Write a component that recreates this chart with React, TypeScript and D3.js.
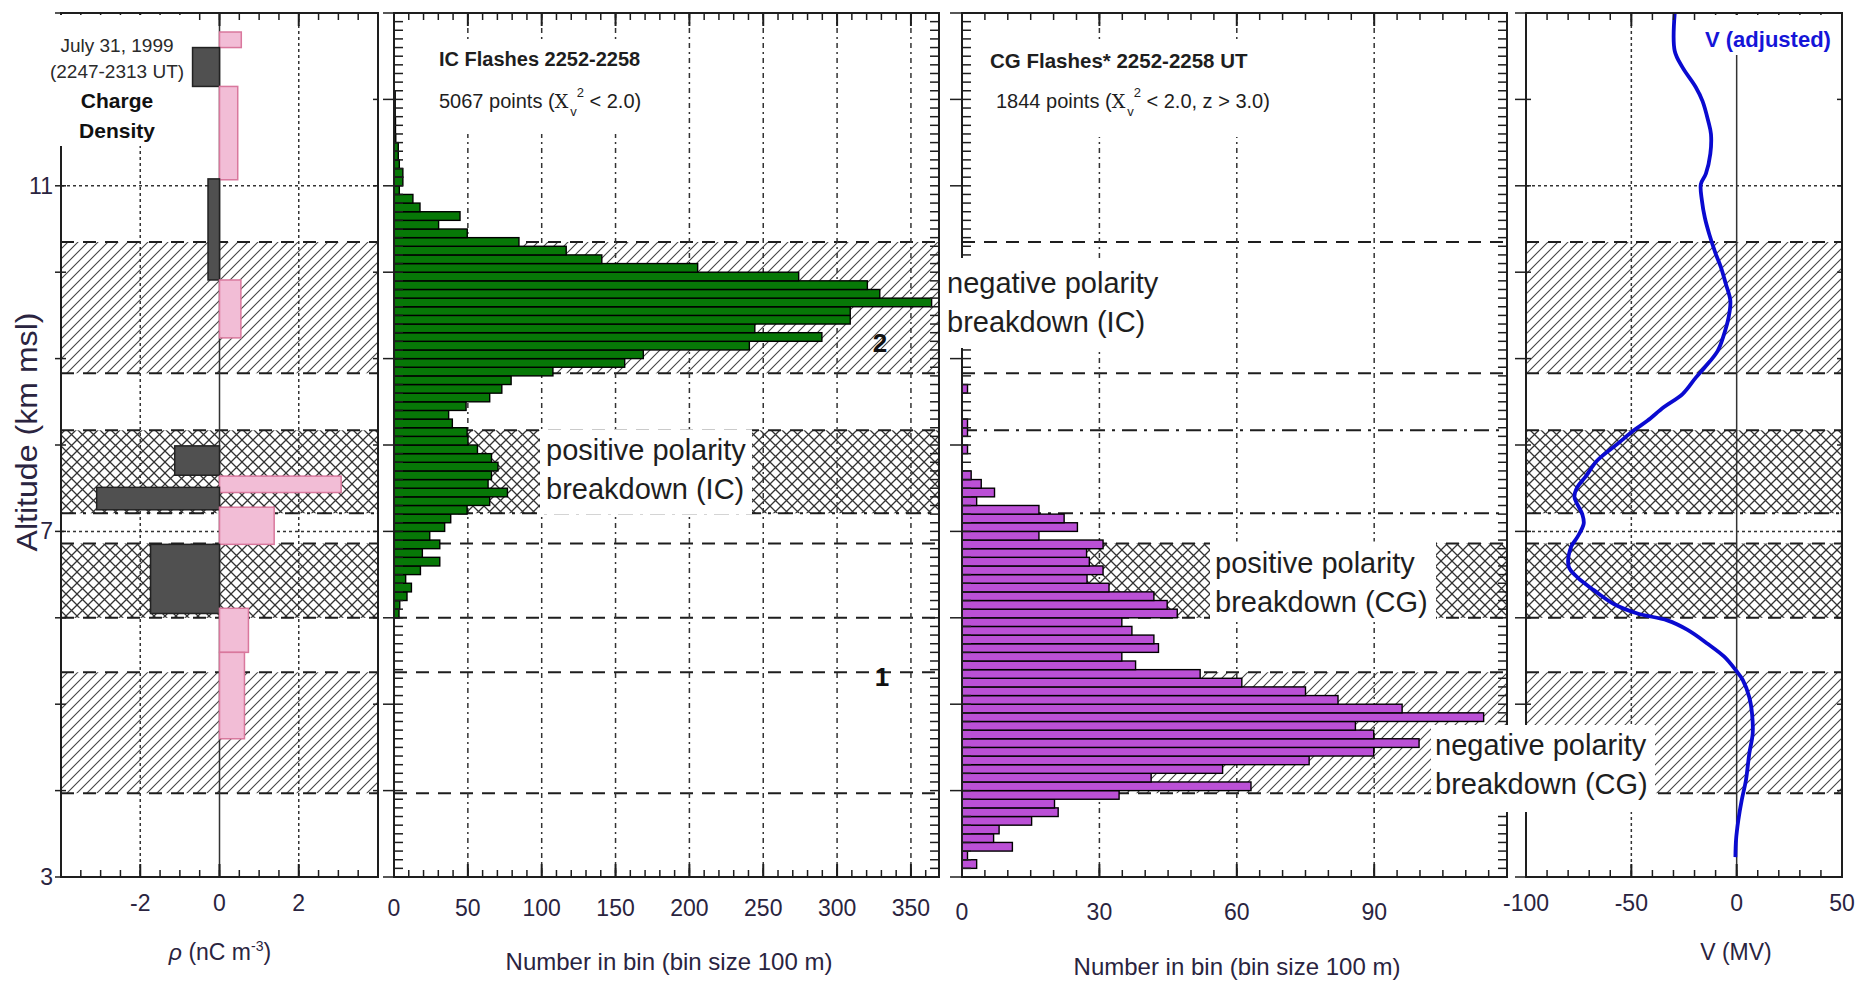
import * as d3 from 'd3';

// charge density layers: bottom / top altitude (km msl) and rho (nC m^-3)
const chargeBottom = [12.6, 12.15, 11.07, 9.91, 9.24, 7.65, 7.45, 7.25, 6.85, 6.05, 5.6, 4.6];
const chargeTop = [12.78, 12.6, 12.15, 11.08, 9.91, 7.99, 7.64, 7.51, 7.28, 6.85, 6.11, 5.6];
const chargeRho = [0.55, -0.68, 0.46, -0.29, 0.54, -1.13, 3.07, -3.1, 1.38, -1.74, 0.73, 0.63];

// IC flash sources, 100 m bins starting at 6.0 km
const icStartKm = 6.0;
const icCounts = [
  3.4, 3.9, 8.8, 11.8, 7.9, 17.9, 31, 19.2, 31, 24.2,
  34.3, 38.4, 49.5, 64.8, 76.8, 63.7, 66, 70.4, 66, 56.5,
  50.1, 49.5, 39.5, 37, 48.8, 64.8, 73, 79.3, 107.6, 156.2,
  168.8, 240.6, 289.7, 244.3, 308.9, 308.9, 364, 328.9, 320.5, 274,
  205.6, 140.7, 116.6, 84.6, 49.6, 30.2, 44.7, 17.6, 12.8, 3.6,
  6, 6, 3.6, 2.9, 2.9, 1.2, 1, 1, 0.8, 0.8, 0.8,
];

// CG flash sources, 100 m bins starting at 3.1 km
const cgStartKm = 3.1;
const cgCounts = [
  3.2, 1.2, 11, 6.9, 8.1, 15.2, 21, 20.2, 34.3, 63.1,
  41.3, 56.9, 75.8, 89.9, 99.8, 89.9, 85.9, 113.9, 96.1, 82.1,
  75, 61.1, 52, 37.9, 34.9, 42.9, 41.9, 37.1, 34.9, 47,
  44.8, 41.9, 32.1, 27.3, 30.8, 27.8, 27.2, 30.8, 16.8, 25.2,
  22.3, 16.8, 3.2, 7.1, 4.2, 2, 0, 0, 1.2, 0,
  1.2, 1.2, 0, 0, 0, 1.2,
];

// adjusted potential profile
const vAltitude = [
  13.0, 12.56, 12.37, 12.14, 11.98, 11.75, 11.6, 11.37, 11.14, 11.02,
  10.83, 10.63, 10.44, 10.21, 10.06, 9.86, 9.67, 9.48, 9.29, 9.09,
  8.9, 8.78, 8.59, 8.44, 8.28, 8.17, 8.01, 7.82, 7.63, 7.51,
  7.4, 7.2, 7.09, 6.93, 6.82, 6.59, 6.47, 6.32, 6.16, 6.05,
  5.97, 5.86, 5.7, 5.55, 5.39, 5.28, 5.08, 4.89, 4.66, 4.43,
  4.12, 3.89, 3.66, 3.43, 3.23,
];
const vPotential = [
  -29.4, -29.4, -25.7, -19.4, -16.2, -13.5, -12.2, -12.5, -14.6, -17,
  -16.5, -15.1, -13, -9.9, -7.5, -5.1, -3, -3.8, -5.9, -9,
  -15.1, -19.4, -25.7, -34.5, -42.4, -48.8, -56.7, -66.2, -71.8, -75.7,
  -77, -73.3, -72.6, -75.7, -78.6, -79.7, -75.7, -67.8, -58.3, -47.1,
  -32.9, -23.3, -13.8, -5.9, -0.3, 2.9, 6, 7.3, 7.6, 6,
  4.4, 2.4, 0.8, -0.3, -0.6,
];

// breakdown layers (km)
const bandLow = [8.83, 7.21, 6.0, 3.97];
const bandHigh = [10.35, 8.17, 6.86, 5.37];
const bandFill = ['diag', 'cross', 'cross', 'diag'];

const altTicks = [3, 7, 11];
const rhoTicks = [-2, 0, 2];
const icTicks = [0, 50, 100, 150, 200, 250, 300, 350];
const cgTicks = [0, 30, 60, 90];
const vTicks = [-100, -50, 0, 50];

const FONT = '"Liberation Sans", Arial, Helvetica, sans-serif';
const INK = '#1e1e1e';
const GRID = '#333';

const y = d3.scaleLinear().domain([3, 13]).range([877, 13]);
const TOP = y(13);
const BOT = y(3);

type Scale = d3.ScaleLinear<number, number>;

function Frame({ sx, minorX, majorX, fine, outer }: { sx: Scale; minorX: number[]; majorX: number[]; fine: boolean; outer: number }) {
  const [l, r] = sx.range();
  const km = d3.range(3, 13.001, 1);
  const tenth = d3.range(3, 13.0001, 0.1);
  return (
    <g stroke={INK} fill="none">
      <rect x={l} y={TOP} width={r - l} height={BOT - TOP} strokeWidth={2} />
      {minorX.map((v) => (
        <g key={'mx' + v} strokeWidth={1.5}>
          <line x1={sx(v)} x2={sx(v)} y1={BOT} y2={BOT - 7} />
          <line x1={sx(v)} x2={sx(v)} y1={TOP} y2={TOP + 7} />
        </g>
      ))}
      {majorX.map((v) => (
        <g key={'Mx' + v} strokeWidth={2}>
          <line x1={sx(v)} x2={sx(v)} y1={BOT} y2={BOT - 13} />
          <line x1={sx(v)} x2={sx(v)} y1={TOP} y2={TOP + 13} />
        </g>
      ))}
      {fine &&
        tenth.map((a) => (
          <g key={'ty' + a.toFixed(1)} strokeWidth={1.5}>
            <line x1={l} x2={l + 9} y1={y(a)} y2={y(a)} />
            <line x1={r} x2={r - 9} y1={y(a)} y2={y(a)} />
          </g>
        ))}
      {!fine &&
        km.map((a) => (
          <g key={'ky' + a} strokeWidth={1.5}>
            <line x1={l} x2={l + 5} y1={y(a)} y2={y(a)} />
            <line x1={r} x2={r - 5} y1={y(a)} y2={y(a)} />
          </g>
        ))}
      {km.map((a) => (
        <line key={'oy' + a} x1={l - outer} x2={l} y1={y(a)} y2={y(a)} strokeWidth={1.5} />
      ))}
    </g>
  );
}

function Bands({ sx, hatch, dashDot }: { sx: Scale; hatch: number[]; dashDot: boolean }) {
  const [l, r] = sx.range();
  return (
    <g>
      {bandLow.map((lo, i) =>
        hatch.includes(i) ? (
          <rect key={'h' + i} x={l} y={y(bandHigh[i])} width={r - l} height={y(lo) - y(bandHigh[i])}
            fill={`url(#${bandFill[i]})`} />
        ) : null
      )}
      {bandLow.map((lo, i) => {
        const hi = bandHigh[i];
        const topDash = dashDot && i === 1 ? '15,7,3,7' : '13,9';
        const botDash = i === 1 ? '15,7,3,7' : '13,9';
        return (
          <g key={'l' + i} stroke={INK} strokeWidth={2}>
            <line x1={l} x2={r} y1={y(hi)} y2={y(hi)} strokeDasharray={topDash} />
            <line x1={l} x2={r} y1={y(lo)} y2={y(lo)} strokeDasharray={botDash} />
          </g>
        );
      })}
    </g>
  );
}

function Box({ x, y: yy, w, h }: { x: number; y: number; w: number; h: number }) {
  return <rect x={x} y={yy} width={w} height={h} fill="#fff" />;
}

function TwoLine({ x, y1, a, b }: { x: number; y1: number; a: string; b: string }) {
  return (
    <g fontFamily={FONT} fontSize={29} fill={INK}>
      <text x={x} y={y1}>{a}</text>
      <text x={x} y={y1 + 39}>{b}</text>
    </g>
  );
}

export default function App() {
  const xRho = d3.scaleLinear().domain([-4, 4]).range([61, 378]);
  const xIC = d3.scaleLinear().domain([0, 369]).range([394, 939]);
  const xCG = d3.scaleLinear().domain([0, 119]).range([962, 1507]);
  const xV = d3.scaleLinear().domain([-100, 50]).range([1526, 1842]);

  const binH = y(0) - y(0.1);
  const vLine = d3
    .line<number>()
    .x((d) => xV(d))
    .y((_, i) => y(vAltitude[i]))
    .curve(d3.curveCatmullRom);

  const hGrid = (sx: Scale, key: string) =>
    [7, 11].map((a) => (
      <line key={key + a} x1={sx.range()[0]} x2={sx.range()[1]} y1={y(a)} y2={y(a)}
        stroke={GRID} strokeWidth={1.5} strokeDasharray="3,3" />
    ));

  return (
    <div style={{ position: 'absolute', left: 0, top: 0 }}>
      <svg width={1870} height={989} viewBox="0 0 1870 989" style={{ display: 'block', background: '#fff' }}>
        <defs>
          <pattern id="diag" width={10} height={10} patternUnits="userSpaceOnUse">
            <path d="M-2,2 L2,-2 M0,10 L10,0 M8,12 L12,8" stroke="#444" strokeWidth={1.1} />
          </pattern>
          <pattern id="cross" width={11} height={11} patternUnits="userSpaceOnUse">
            <path d="M0,0 L11,11 M11,0 L0,11" stroke="#333" strokeWidth={1.3} />
          </pattern>
        </defs>
        <rect width={1870} height={989} fill="#fff" />

        {/* panel 1: charge density */}
        <Bands sx={xRho} hatch={[0, 1, 2, 3]} dashDot={false} />
        {hGrid(xRho, 'g1')}
        {rhoTicks.map((v) => (
          <line key={'v1' + v} x1={xRho(v)} x2={xRho(v)} y1={TOP} y2={BOT} stroke={GRID}
            strokeWidth={1.5} strokeDasharray={v === 0 ? undefined : '3,3'} />
        ))}
        {chargeRho.map((v, i) => (
          <rect key={'c' + i} x={Math.min(xRho(0), xRho(v))} y={y(chargeTop[i])}
            width={Math.abs(xRho(v) - xRho(0))} height={y(chargeBottom[i]) - y(chargeTop[i])}
            fill={v < 0 ? '#505050' : '#f2bdd6'} stroke={v < 0 ? '#222' : '#d9789d'} strokeWidth={1.5} />
        ))}
        <Frame sx={xRho} minorX={d3.range(-4, 4.01, 0.5)} majorX={rhoTicks} fine={false} outer={6} />

        {/* panel 2: IC flashes */}
        <Bands sx={xIC} hatch={[0, 1]} dashDot={false} />
        {icTicks.slice(1).map((v) => (
          <line key={'v2' + v} x1={xIC(v)} x2={xIC(v)} y1={TOP} y2={BOT} stroke={GRID}
            strokeWidth={1.5} strokeDasharray="5,4,2,4" />
        ))}
        {icCounts.map((v, i) => (
          <rect key={'ic' + i} x={xIC(0)} y={y(icStartKm + (i + 1) * 0.1)} width={xIC(v) - xIC(0)} height={binH}
            fill="#077807" stroke="#000" strokeWidth={1.4} />
        ))}
        <Frame sx={xIC} minorX={d3.range(0, 369, 10)} majorX={icTicks} fine={true} outer={11} />

        {/* panel 3: CG flashes */}
        <Bands sx={xCG} hatch={[2, 3]} dashDot={true} />
        {cgTicks.slice(1).map((v) => (
          <line key={'v3' + v} x1={xCG(v)} x2={xCG(v)} y1={TOP} y2={BOT} stroke={GRID}
            strokeWidth={1.5} strokeDasharray="5,4,2,4" />
        ))}
        {cgCounts.map((v, i) =>
          v > 0 ? (
            <rect key={'cg' + i} x={xCG(0)} y={y(cgStartKm + (i + 1) * 0.1)} width={xCG(v) - xCG(0)} height={binH}
              fill="#bb50d6" stroke="#000" strokeWidth={1.4} />
          ) : null
        )}
        <Frame sx={xCG} minorX={d3.range(0, 119, 5)} majorX={cgTicks} fine={true} outer={12} />

        {/* panel 4: potential */}
        <Bands sx={xV} hatch={[0, 1, 2, 3]} dashDot={false} />
        {hGrid(xV, 'g4')}
        {[-50, 0].map((v) => (
          <line key={'v4' + v} x1={xV(v)} x2={xV(v)} y1={TOP} y2={BOT} stroke={GRID}
            strokeWidth={1.5} strokeDasharray={v === 0 ? undefined : '3,3'} />
        ))}
        <path d={vLine(vPotential) ?? ''} fill="none" stroke="#0a0ad0" strokeWidth={3.8} strokeLinejoin="round" />
        <Frame sx={xV} minorX={d3.range(-100, 50, 10)} majorX={vTicks} fine={false} outer={11} />

        {/* annotation boxes and text */}
        <Box x={42} y={15} w={148} h={131} />
        <g fontFamily={FONT} fill="#2a2a2a" textAnchor="middle">
          <text x={117} y={52} fontSize={19}>July 31, 1999</text>
          <text x={117} y={78} fontSize={19}>(2247-2313 UT)</text>
          <text x={117} y={108} fontSize={21} fontWeight="bold" fill="#111">Charge</text>
          <text x={117} y={138} fontSize={21} fontWeight="bold" fill="#111">Density</text>
        </g>

        <Box x={433} y={42} w={229} h={92} />
        <g fontFamily={FONT} fill={INK} style={{ whiteSpace: 'pre' }}>
          <text x={439} y={66} fontSize={20} fontWeight="bold">IC Flashes 2252-2258</text>
          <text x={439} y={108} fontSize={20}>
            {'5067 points  ('}
            <tspan fontFamily='"DejaVu Serif", serif' fontSize={19}>X</tspan>
            <tspan fontSize={13} dy={8} dx={2}>v</tspan>
            <tspan fontSize={13} dy={-19} dx={0}>2</tspan>
            <tspan dy={11}>{' < 2.0)'}</tspan>
          </text>
        </g>

        <Box x={985} y={42} w={305} h={95} />
        <g fontFamily={FONT} fill={INK} style={{ whiteSpace: 'pre' }}>
          <text x={990} y={68} fontSize={20.5} fontWeight="bold">CG Flashes* 2252-2258 UT</text>
          <text x={996} y={108} fontSize={20}>
            {'1844 points ('}
            <tspan fontFamily='"DejaVu Serif", serif' fontSize={19}>X</tspan>
            <tspan fontSize={13} dy={8} dx={2}>v</tspan>
            <tspan fontSize={13} dy={-19} dx={0}>2</tspan>
            <tspan dy={11}>{' < 2.0, z > 3.0)'}</tspan>
          </text>
        </g>

        <Box x={1700} y={15} w={139} h={40} />
        <text x={1705} y={47} fontFamily={FONT} fontSize={22} fontWeight="bold" fill="#1515d8">V (adjusted)</text>

        <Box x={540} y={y(bandHigh[1]) - 1} w={212} h={y(bandLow[1]) - y(bandHigh[1]) + 2} />
        <TwoLine x={546} y1={460} a="positive polarity" b="breakdown (IC)" />

        <Box x={943} y={258} w={219} h={90} />
        <TwoLine x={947} y1={293} a="negative polarity" b="breakdown (IC)" />

        <Box x={1210} y={y(bandHigh[2]) - 2} w={226} h={y(bandLow[2]) - y(bandHigh[2]) + 4} />
        <TwoLine x={1215} y1={573} a="positive polarity" b="breakdown (CG)" />

        <Box x={1431} y={725} w={224} h={87} />
        <TwoLine x={1435} y1={755} a="negative polarity" b="breakdown (CG)" />

        <g fontFamily={FONT} fontWeight="bold" fontSize={26} fill="#111" textAnchor="middle">
          <text x={880} y={352}>2</text>
          <text x={882} y={686}>1</text>
        </g>

        {/* axes labels */}
        <g fontFamily={FONT} fontSize={23} fill="#2a2440">
          {altTicks.map((a) => (
            <text key={'ya' + a} x={53} y={y(a) + 8} textAnchor="end">{a}</text>
          ))}
          {rhoTicks.map((v) => (
            <text key={'xr' + v} x={xRho(v)} y={911} textAnchor="middle">{v}</text>
          ))}
          {icTicks.map((v) => (
            <text key={'xi' + v} x={xIC(v)} y={916} textAnchor="middle">{v}</text>
          ))}
          {cgTicks.map((v) => (
            <text key={'xc' + v} x={xCG(v)} y={920} textAnchor="middle">{v}</text>
          ))}
          {vTicks.map((v) => (
            <text key={'xv' + v} x={xV(v)} y={911} textAnchor="middle">{v}</text>
          ))}
        </g>
        <g fontFamily={FONT} fontSize={23} fill="#2a2440" textAnchor="middle">
          <text x={220} y={960}>
            <tspan fontStyle="italic">ρ</tspan>
            {' (nC m'}
            <tspan fontSize={14} dy={-9}>-3</tspan>
            <tspan dy={9}>)</tspan>
          </text>
          <text x={669} y={970} fontSize={24}>Number in bin (bin size 100 m)</text>
          <text x={1237} y={975} fontSize={24}>Number in bin (bin size 100 m)</text>
          <text x={1736} y={960}>V (MV)</text>
          <text transform="translate(37,432) rotate(-90)" fontSize={29} textLength={239}
            lengthAdjust="spacingAndGlyphs">Altitude (km msl)</text>
        </g>
      </svg>
    </div>
  );
}
